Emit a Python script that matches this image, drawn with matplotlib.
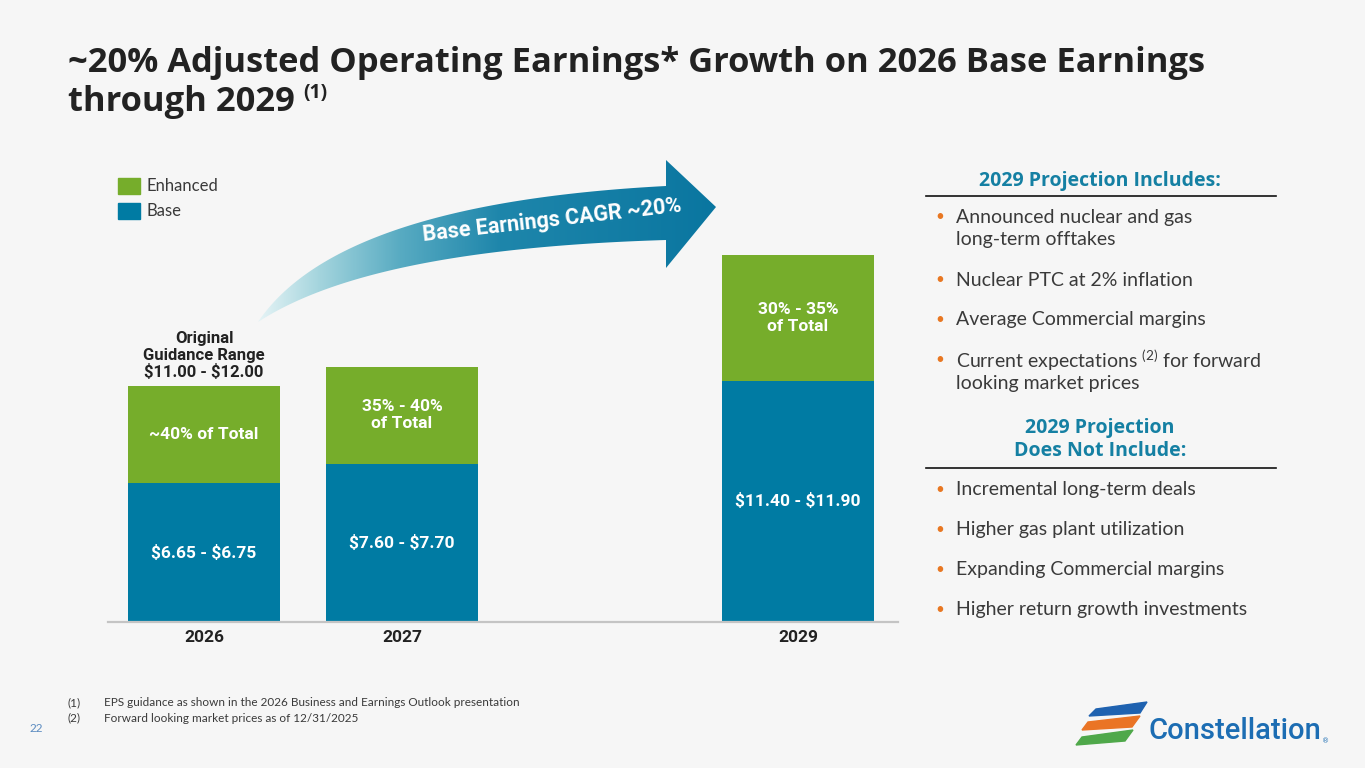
import numpy as np
import matplotlib
matplotlib.use("Agg")
import matplotlib.pyplot as plt
from matplotlib.patches import Polygon, Rectangle
from matplotlib.colors import to_rgba

# data
years = [2026, 2027, 2029]
base = [6.70, 7.65, 11.65]
enhanced = [4.70, 4.67, 6.10]
base_labels = ["$6.65 - $6.75", "$7.60 - $7.70", "$11.40 - $11.90"]
enh_labels = ["~40% of Total", "35% - 40%\nof Total", "30% - 35%\nof Total"]
guidance_label = "Original\nGuidance Range\n$11.00 - $12.00"
includes = ["Announced nuclear and gas\nlong-term offtakes",
            "Nuclear PTC at 2% inflation",
            "Average Commercial margins",
            "Current expectations $^{(2)}$ for forward\nlooking market prices"]
excludes = ["Incremental long-term deals",
            "Higher gas plant utilization",
            "Expanding Commercial margins",
            "Higher return growth investments"]
footnotes = ["EPS guidance as shown in the 2026 Business and Earnings Outlook presentation",
             "Forward looking market prices as of 12/31/2025"]

GREEN = "#76ad2b"
BLUE = "#007ba3"
TEAL = "#1580a3"
ORANGE = "#e87722"
DARK = "#222222"
GREY = "#3a3a3a"

plt.rcParams["mathtext.fontset"] = "custom"
plt.rcParams["mathtext.rm"] = "Lato"


def esc(s):
    return s.replace("$", r"\$")


W, H = 1365, 768
fig = plt.figure(figsize=(W / 100, H / 100), dpi=100)
fig.patch.set_facecolor("#f6f6f6")


def fx(x):
    return x / W


def fy(y):
    return 1 - y / H


# overlay axes in pixel coordinates for decorations
ov = fig.add_axes([0, 0, 1, 1])
ov.set_xlim(0, W)
ov.set_ylim(H, 0)
ov.axis("off")

# main bar chart
ppu = 20.7
top_px = 622 - 22 * ppu
ax = fig.add_axes([fx(108), fy(622), fx(898 - 108), (622 - top_px) / H])
ax.set_facecolor("none")
ax.bar(years, base, width=152 / 198, color=BLUE, zorder=2)
ax.bar(years, enhanced, bottom=base, width=152 / 198, color=GREEN, zorder=2)
ax.set_xlim(2026 - 96 / 198, 2026 + 694 / 198)
ax.set_ylim(0, 22)
for s in ["top", "left", "right"]:
    ax.spines[s].set_visible(False)
ax.spines["bottom"].set_color("#c4c4c4")
ax.spines["bottom"].set_linewidth(1.6)
ax.set_yticks([])
ax.set_xticks(years)
ax.set_xticklabels([str(y) for y in years], fontsize=12.5, fontweight="bold",
                   color=DARK, family="Roboto")
ax.tick_params(axis="x", length=0, pad=6)

for x, b, e, bl, el in zip(years, base, enhanced, base_labels, enh_labels):
    ax.text(x, b / 2, esc(bl), ha="center", va="center", color="white",
            fontsize=12.5, fontweight="bold", family="Roboto", zorder=3)
    ax.text(x, b + e / 2, el, ha="center", va="center", color="white",
            fontsize=12.5, fontweight="bold", family="Roboto", linespacing=1.15, zorder=3)
ax.text(years[0], base[0] + enhanced[0] + 0.3, esc(guidance_label), ha="center", va="bottom",
        color=DARK, fontsize=12, fontweight="bold", family="Roboto", linespacing=1.1)

# legend
for i, (lab, col) in enumerate([("Enhanced", GREEN), ("Base", BLUE)]):
    y0 = 178 + i * 25
    ov.add_patch(Rectangle((118, y0), 22, 16, color=col))
    ov.text(146, y0 + 8, lab, va="center", ha="left", fontsize=12,
            color=GREY, family="Lato")


# curved CAGR arrow
def bez(p0, p1, p2, p3, n=80):
    t = np.linspace(0, 1, n)[:, None]
    p0, p1, p2, p3 = map(np.array, (p0, p1, p2, p3))
    return (1 - t) ** 3 * p0 + 3 * (1 - t) ** 2 * t * p1 + 3 * (1 - t) * t ** 2 * p2 + t ** 3 * p3


top_edge = bez((258, 322), (310, 245), (440, 198), (666, 186))
bot_edge = bez((258, 322), (335, 272), (470, 246), (666, 240))
head = np.array([(666, 160), (716, 207), (666, 268)])
pts = np.vstack([top_edge, head, bot_edge[::-1]])
arrow = Polygon(pts, closed=True, facecolor="none", edgecolor="none")
ov.add_patch(arrow)

stops_x = [258, 320, 400, 500, 716]
stops_c = ["#e6f4f6", "#a3d4dd", "#58abc2", "#1e86ab", "#0a76a0"]
xs = np.linspace(250, 720, 400)
grad = np.zeros((1, len(xs), 4))
rgba = np.array([to_rgba(c) for c in stops_c])
for k in range(4):
    grad[0, :, k] = np.interp(xs, stops_x, rgba[:, k])
im = ov.imshow(grad, extent=(250, 720, 330, 150), aspect="auto", zorder=1)
im.set_clip_path(arrow)
ov.set_xlim(0, W)
ov.set_ylim(H, 0)
ov.text(552, 220, "Base Earnings CAGR ~20%", rotation=6.5, ha="center", va="center",
        color="white", fontsize=15.5, fontweight="bold", family="Roboto", zorder=2)

# title
fig.text(fx(68), fy(63), "~20% Adjusted Operating Earnings* Growth on 2026 Base Earnings",
         fontsize=24.8, fontweight="bold", color=DARK, family="Open Sans", va="center")
t2 = fig.text(fx(68), fy(102), "through 2029", fontsize=24.8, fontweight="bold",
              color=DARK, family="Open Sans", va="center")
fig.canvas.draw()
bb = t2.get_window_extent()
fig.text(fx(bb.x1 + 8), fy(93), "(1)", fontsize=14, fontweight="bold", color=DARK,
         family="Open Sans", va="center")


# right panel
def heading(y, txt):
    ov.text(1100, y, txt, ha="center", va="center", color=TEAL, fontsize=14,
            fontweight="bold", family="Open Sans", linespacing=1.2)


def bullet(y, txt):
    ov.text(940, y, "\u2022", ha="center", va="center", color=ORANGE, fontsize=11, family="Lato")
    for j, line in enumerate(txt.split("\n")):
        ov.text(956, y + j * 23, line, ha="left", va="center", color=GREY,
                fontsize=14, family="Lato")


heading(181, "2029 Projection Includes:")
ov.plot([926, 1276], [196, 196], color="#111111", lw=1.2)
for y, txt in zip([217, 280, 320, 360], includes):
    bullet(y, txt)
heading(439, "2029 Projection\nDoes Not Include:")
ov.plot([926, 1276], [468, 468], color="#111111", lw=1.2)
for y, txt in zip([490, 530, 570, 610], excludes):
    bullet(y, txt)

# footnotes
for i, fn in enumerate(footnotes):
    y = 703 + i * 15
    ov.text(68, y, "(%d)" % (i + 1), va="center", fontsize=8.5, color=GREY, family="Lato")
    ov.text(104, y, fn, va="center", fontsize=8.5, color=GREY, family="Lato")
ov.text(30, 729, "22", va="center", fontsize=8.5, color="#5b8bc0", family="Lato")

# logo
stripes = [([(1096, 709), (1147, 702), (1140, 713), (1089, 716)], "#1f62b0"),
           ([(1088, 722), (1140, 716), (1132, 727), (1082, 730)], "#ea7425"),
           ([(1082, 737), (1133, 730), (1125, 741), (1076, 745)], "#4fa84a")]
for poly, col in stripes:
    ov.add_patch(Polygon(poly, closed=True, color=col))
ov.text(1149, 731, "Constellation", va="center", ha="left", fontsize=21,
        color="#1c6db3", family="Roboto", fontweight="medium")
ov.text(1322, 741, "\u00ae", va="center", fontsize=5, color="#1c6db3")

fig.savefig("out.png", dpi=100, facecolor=fig.get_facecolor())
